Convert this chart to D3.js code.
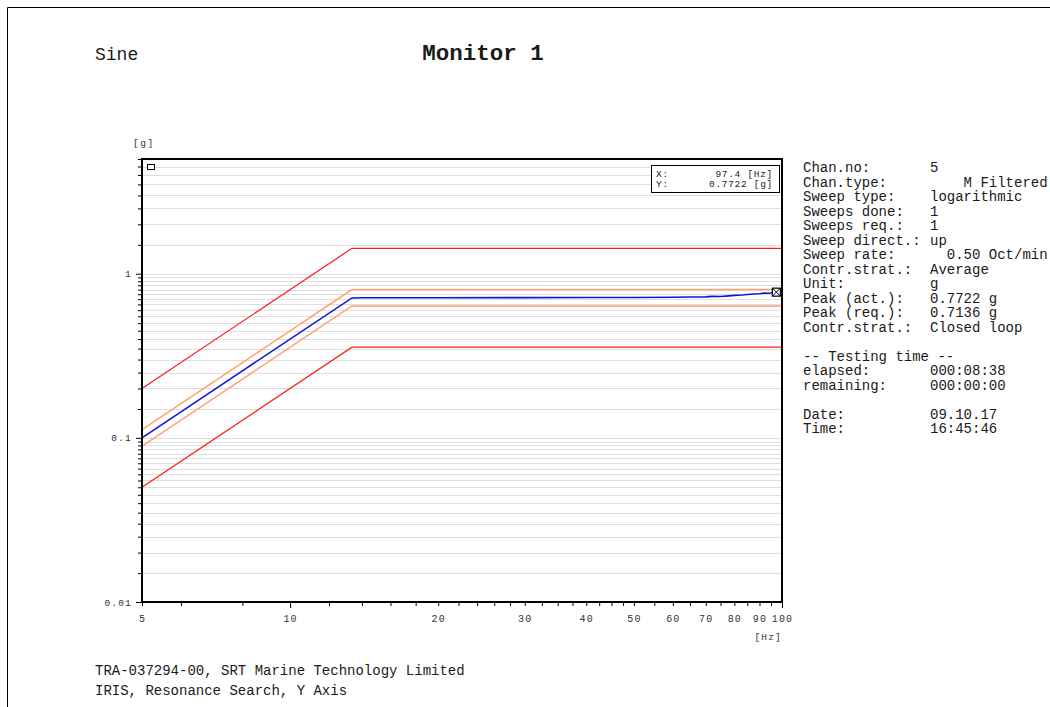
<!DOCTYPE html>
<html>
<head>
<meta charset="utf-8">
<script src="https://cdn.jsdelivr.net/npm/d3@7"></script>
<style>
  body { margin: 0; background: #fff; }
  svg text { font-family: "Liberation Mono", "Courier New", monospace; fill: #1a1a1a; }
</style>
</head>
<body>
<div id="chart"></div>
<script>
// reference profile (f in Hz, a in g)
var refFreq = [5, 13.36, 100];
var refLevel = [0.1, 0.7136, 0.7136];
// tolerance factors (alarm +-1dB, abort +-6dB)
var alarmHi = 1.122, alarmLo = 0.891;
var abortHi = 2.0, abortLo = 0.5;

// measured control signal
var measFreq = [5, 8, 13.36, 14, 20, 30, 40, 50, 60, 65, 70, 72, 75, 78, 80, 83, 85, 88, 90, 92, 94, 96, 97.4, 100];
var measLevel = [0.1, 0.256, 0.712, 0.714, 0.714, 0.715, 0.716, 0.717, 0.719, 0.721, 0.723, 0.728, 0.726, 0.733, 0.738, 0.742, 0.748, 0.752, 0.755, 0.762, 0.760, 0.768, 0.7722, 0.774];

var xLabels = [5, 10, 20, 30, 40, 50, 60, 70, 80, 90, 100];
var xMinor = [6, 8, 12, 14, 16, 18, 22, 24, 26, 28, 32.5, 35, 37.5, 42.5, 45, 47.5, 55, 65, 75, 85, 95];
var yLabels = [0.01, 0.1, 1];

var info = [
  ["Chan.no:", "5"],
  ["Chan.type:", "    M Filtered"],
  ["Sweep type:", "logarithmic"],
  ["Sweeps done:", "1"],
  ["Sweeps req.:", "1"],
  ["Sweep direct.:", "up"],
  ["Sweep rate:", "  0.50 Oct/min"],
  ["Contr.strat.:", "Average"],
  ["Unit:", "g"],
  ["Peak (act.):", "0.7722 g"],
  ["Peak (req.):", "0.7136 g"],
  ["Contr.strat.:", "Closed loop"],
  ["", ""],
  ["-- Testing time --", ""],
  ["elapsed:", "000:08:38"],
  ["remaining:", "000:00:00"],
  ["", ""],
  ["Date:", "09.10.17"],
  ["Time:", "16:45:46"]
];

var W = 1050, H = 707;
var plot = {left: 142, top: 159, right: 782, bottom: 602};

var svg = d3.select("#chart").append("svg")
  .attr("width", W).attr("height", H);

// page frame
svg.append("path")
  .attr("d", "M7.5," + H + "V7.5H" + W)
  .attr("fill", "none").attr("stroke", "#000").attr("stroke-width", 1);

svg.append("text").attr("x", 95).attr("y", 60)
  .style("font-size", "18px").text("Sine");
svg.append("text").attr("x", 483).attr("y", 60).attr("text-anchor", "middle")
  .style("font-size", "22.5px").style("font-weight", "bold").text("Monitor 1");

var x = d3.scaleLog().domain([5, 100]).range([plot.left, plot.right]);
var y = d3.scaleLog().domain([0.01, 5]).range([plot.bottom, plot.top]);

// y grid / tick values: half steps in each decade
var yGrid = [];
[0.01, 0.1, 1].forEach(function(dec) {
  for (var k = 2; k <= 19; k++) {
    var v = +(dec * k / 2).toPrecision(3);
    if (v <= 5) yGrid.push(v);
  }
});

var g = svg.append("g");

g.selectAll(".grid").data(yGrid).enter().append("line")
  .attr("x1", plot.left).attr("x2", plot.right)
  .attr("y1", function(d) { return Math.round(y(d)) + 0.5; })
  .attr("y2", function(d) { return Math.round(y(d)) + 0.5; })
  .attr("stroke", "#dedede").attr("stroke-width", 1);

// y axis
var yAxis = d3.axisLeft(y).tickValues(yGrid).tickSize(4)
  .tickFormat(function(d) { return yLabels.indexOf(d) >= 0 ? d3.format("")(d) : ""; });
var ya = svg.append("g").attr("transform", "translate(" + plot.left + ",0)").call(yAxis);
ya.select(".domain").remove();
ya.selectAll(".tick line").attr("stroke", "#000").attr("x1", 1)
  .attr("x2", function(d) { return yLabels.indexOf(d) >= 0 ? -6 : -4; });
ya.selectAll(".tick text").attr("x", -10).attr("dy", "0.32em")
  .style("font-size", "9.5px").style("letter-spacing", "1.2px").style("fill", "#333")
  .style("font-family", "'Liberation Mono', monospace");

// x axis
var xAxis = d3.axisBottom(x).tickValues(xLabels.concat(xMinor)).tickSize(4)
  .tickFormat(function(d) { return xLabels.indexOf(d) >= 0 ? d : ""; });
var xa = svg.append("g").attr("transform", "translate(0," + plot.bottom + ")").call(xAxis);
xa.select(".domain").remove();
xa.selectAll(".tick line").attr("stroke", "#000")
  .attr("y2", function(d) { return (d === 10 || d === 100) ? 6 : 4; });
xa.selectAll(".tick text").attr("y", 13)
  .style("font-size", "10px").style("letter-spacing", "1.2px").style("fill", "#333")
  .style("font-family", "'Liberation Mono', monospace");

svg.append("text").attr("x", 133).attr("y", 146)
  .style("font-size", "9.5px").style("letter-spacing", "1.5px").style("fill", "#333").text("[g]");
svg.append("text").attr("x", 782).attr("y", 640).attr("text-anchor", "end")
  .style("font-size", "9.5px").style("letter-spacing", "1.2px").style("fill", "#333").text("[Hz]");

// profile lines
var line = d3.line().x(function(d) { return x(d[0]); }).y(function(d) { return y(d[1]); });
function band(f) { return refFreq.map(function(v, i) { return [v, refLevel[i] * f]; }); }

svg.append("path").datum(band(abortHi)).attr("d", line)
  .attr("fill", "none").attr("stroke", "#ff1a1a").attr("stroke-width", 1.2);
svg.append("path").datum(band(abortLo)).attr("d", line)
  .attr("fill", "none").attr("stroke", "#ff1a1a").attr("stroke-width", 1.2);
svg.append("path").datum(band(alarmHi)).attr("d", line)
  .attr("fill", "none").attr("stroke", "#ffa070").attr("stroke-width", 1.4);
svg.append("path").datum(band(alarmLo)).attr("d", line)
  .attr("fill", "none").attr("stroke", "#ffa070").attr("stroke-width", 1.4);

svg.append("path").datum(measFreq.map(function(v, i) { return [v, measLevel[i]]; }))
  .attr("d", line).attr("fill", "none").attr("stroke", "#1010e0").attr("stroke-width", 1.6);

// plot frame
svg.append("rect")
  .attr("x", plot.left).attr("y", plot.top)
  .attr("width", plot.right - plot.left).attr("height", plot.bottom - plot.top)
  .attr("fill", "none").attr("stroke", "#000").attr("stroke-width", 2);

// cursor marker
var mx = x(97.4), my = y(0.7722);
svg.append("rect").attr("x", mx - 4).attr("y", my - 4).attr("width", 8).attr("height", 8)
  .attr("fill", "#fff").attr("stroke", "#000").attr("stroke-width", 1.2);
svg.append("path").attr("d", "M" + (mx - 4) + "," + (my - 4) + "L" + (mx + 4) + "," + (my + 4) +
    "M" + (mx + 4) + "," + (my - 4) + "L" + (mx - 4) + "," + (my + 4))
  .attr("stroke", "#000").attr("stroke-width", 1);

// small icon top-left
svg.append("rect").attr("x", 147.5).attr("y", 164.5).attr("width", 7).attr("height", 5)
  .attr("fill", "#fff").attr("stroke", "#000").attr("stroke-width", 1);

// readout box
svg.append("rect").attr("x", 651.5).attr("y", 165.5).attr("width", 128).attr("height", 27)
  .attr("fill", "#fff").attr("stroke", "#000").attr("stroke-width", 1);
var ro = [["X:", "97.4 [Hz]"], ["Y:", "0.7722 [g]"]];
ro.forEach(function(r, i) {
  svg.append("text").attr("x", 656).attr("y", 177 + i * 10)
    .style("font-size", "9.5px").style("letter-spacing", "0.7px").style("fill", "#222").text(r[0]);
  svg.append("text").attr("x", 773).attr("y", 177 + i * 10).attr("text-anchor", "end")
    .style("font-size", "9.5px").style("letter-spacing", "0.7px").style("fill", "#222").text(r[1]);
});

// info panel
var info_g = svg.append("g");
info.forEach(function(r, i) {
  var yy = 172 + i * 14.5;
  info_g.append("text").attr("x", 803).attr("y", yy).style("font-size", "14px")
    .style("white-space", "pre").attr("xml:space", "preserve").text(r[0]);
  info_g.append("text").attr("x", 930).attr("y", yy).style("font-size", "14px")
    .style("white-space", "pre").attr("xml:space", "preserve").text(r[1]);
});

svg.append("text").attr("x", 95).attr("y", 675).style("font-size", "14px")
  .text("TRA-037294-00, SRT Marine Technology Limited");
svg.append("text").attr("x", 95).attr("y", 695).style("font-size", "14px")
  .text("IRIS, Resonance Search, Y Axis");
</script>
</body>
</html>
